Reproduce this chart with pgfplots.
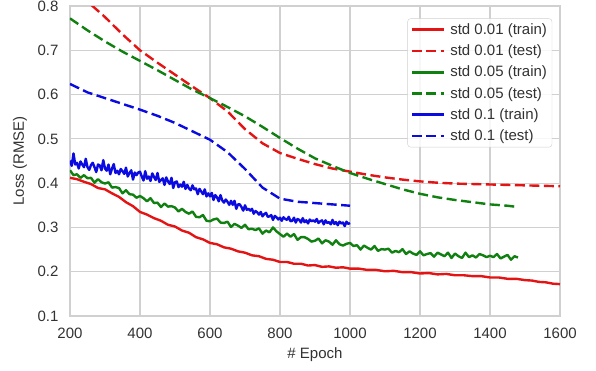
\documentclass[border=0pt]{standalone}
\usepackage{fontspec}
\setmainfont{Liberation Sans}
\usepackage{pgfplots}
\pgfplotsset{compat=1.18}
\definecolor{cR}{RGB}{228,20,20}
\definecolor{cG}{RGB}{16,128,16}
\definecolor{cB}{RGB}{10,10,225}
\definecolor{gridc}{RGB}{208,208,208}
\definecolor{txt}{RGB}{50,50,50}
\begin{document}
\begin{tikzpicture}[font=\fontsize{15bp}{18bp}\selectfont]
\useasboundingbox (-70bp,-55bp) rectangle (526bp,316bp);
\begin{axis}[
  scale only axis, width=490bp, height=310bp,
  xmin=200, xmax=1600, ymin=0.1, ymax=0.8,
  xtick={200,400,...,1600}, ytick={0.1,0.2,...,0.8},
  /pgf/number format/1000 sep={},
  yticklabel style={/pgf/number format/fixed,/pgf/number format/precision=1,/pgf/number format/fixed zerofill, xshift=-8bp, text=txt},
  xticklabel style={yshift=-9bp, text=txt},
  /pgf/number format/assume math mode=true,
  scaled y ticks=false,
  major tick length=0pt,
  grid=major, major grid style={gridc, line width=1.2bp},
  axis line style={gridc, line width=1.2bp},
  xlabel={\# Epoch}, ylabel={Loss (RMSE)},
  xlabel style={at={(axis description cs:0.5,-0.126)}, anchor=center, text=txt},
  ylabel style={at={(axis description cs:-0.102,0.5)}, anchor=center, text=txt},
  legend style={at={(0.984,0.96)}, anchor=north east, draw=gridc, rounded corners=3bp, fill=white, fill opacity=0.85, text opacity=1, draw opacity=1, inner xsep=3bp, inner ysep=3bp, row sep=4.9bp, text=txt, /tikz/every odd column/.append style={column sep=3bp}},
  legend cell align=left,
  legend image code/.code={\draw[#1, line width=2.6bp] (0bp,0bp) -- (32bp,0bp);},
]
\addplot[cR, line width=2.4bp, line join=round] coordinates {
(200,.412)(220,.409)(240,.403)(260,.398)(280,.389)(300,.386)(320,.377)(340,.369)(360,.357)(380,.348)
(400,.335)(420,.329)(440,.321)(460,.315)(480,.306)(500,.302)(520,.293)(540,.288)(560,.278)(580,.273)
(600,.265)(620,.262)(640,.255)(660,.252)(680,.246)(700,.243)(720,.237)(740,.235)(760,.229)(780,.227)
(800,.222)(820,.222)(840,.218)(860,.218)(880,.214)(900,.215)(920,.211)(940,.212)(960,.209)(980,.210)
(1000,.207)(1025,.207)(1050,.204)(1075,.204)(1100,.201)(1125,.202)(1150,.199)(1175,.199)(1200,.196)
(1225,.197)(1250,.194)(1275,.195)(1300,.192)(1325,.192)(1350,.190)(1375,.190)(1400,.187)(1425,.187)
(1450,.184)(1475,.184)(1500,.181)(1520,.180)(1540,.177)(1560,.176)(1580,.173)(1600,.172)};
\addlegendentry{std 0.01 (train)}
\addplot[cR, line width=2.4bp, dash pattern=on 10bp off 4.5bp] coordinates {
(200,.845)(250,.81)(300,.775)(350,.736)(400,.70)(450,.672)(500,.645)(550,.618)(600,.592)(650,.562)
(700,.522)(750,.49)(800,.468)(850,.455)(900,.443)(950,.433)(1000,.426)(1050,.419)(1100,.413)(1150,.408)
(1200,.404)(1250,.401)(1300,.399)(1350,.398)(1400,.397)(1450,.396)(1500,.395)(1550,.394)(1600,.393)};
\addlegendentry{std 0.01 (test)}
\addplot[cG, line width=2.4bp, line join=round] coordinates {
(200,.429)(210,.418)(220,.420)(230,.412)(240,.418)(250,.411)(260,.412)(270,.401)(280,.409)(290,.402)
(300,.399)(310,.402)(320,.390)(330,.391)(340,.389)(350,.377)(360,.384)(370,.375)(380,.374)(390,.367)
(400,.371)(410,.366)(420,.359)(430,.366)(440,.355)(450,.356)(460,.346)(470,.354)(480,.347)(490,.348)
(500,.345)(510,.336)(520,.342)(530,.335)(540,.331)(550,.336)(560,.324)(570,.323)(580,.328)(590,.315)
(600,.314)(610,.318)(620,.320)(630,.311)(640,.310)(650,.313)(660,.301)(670,.308)(680,.304)(690,.299)
(700,.306)(710,.296)(720,.297)(730,.294)(740,.298)(750,.286)(760,.293)(770,.289)(780,.300)(790,.291)
(800,.285)(810,.279)(820,.286)(830,.279)(840,.285)(850,.272)(860,.278)(870,.278)(880,.274)(890,.268)
(900,.270)(910,.275)(920,.264)(930,.271)(940,.268)(950,.261)(960,.271)(970,.262)(980,.259)(990,.263)
(1000,.265)(1010,.258)(1020,.260)(1030,.250)(1040,.259)(1050,.254)(1060,.250)(1070,.258)(1080,.247)(1090,.251)
(1100,.250)(1110,.252)(1120,.243)(1130,.247)(1140,.244)(1150,.251)(1160,.240)(1170,.246)(1180,.241)(1190,.238)
(1200,.246)(1210,.237)(1220,.240)(1230,.242)(1240,.234)(1250,.243)(1260,.239)(1270,.235)(1280,.243)(1290,.231)
(1300,.241)(1310,.235)(1320,.231)(1330,.243)(1340,.233)(1350,.237)(1360,.232)(1370,.240)(1380,.237)(1390,.233)
(1400,.236)(1410,.233)(1420,.240)(1430,.230)(1440,.234)(1450,.238)(1460,.227)(1470,.235)(1480,.232)};
\addlegendentry{std 0.05 (train)}
\addplot[cG, line width=2.4bp, dash pattern=on 10bp off 4.5bp] coordinates {
(200,.772)(250,.745)(300,.72)(350,.697)(400,.676)(450,.655)(500,.633)(550,.611)(600,.592)(650,.572)
(700,.551)(750,.527)(800,.502)(850,.478)(900,.456)(950,.439)(1000,.423)(1050,.41)(1100,.398)(1150,.386)
(1200,.376)(1250,.368)(1300,.362)(1350,.357)(1400,.352)(1450,.349)(1480,.346)};
\addlegendentry{std 0.05 (test)}
\addplot[cB, line width=2.4bp, line join=round] coordinates {
(200,.451)(205,.439)(210,.467)(215,.442)(220,.446)(225,.433)(230,.449)(235,.442)(240,.436)(245,.455)
(250,.436)(255,.430)(260,.441)(265,.446)(270,.436)(275,.425)(280,.442)(285,.440)(290,.429)(295,.452)
(300,.433)(305,.428)(310,.442)(315,.420)(320,.433)(325,.443)(330,.423)(335,.428)(340,.420)(345,.432)
(350,.427)(355,.421)(360,.435)(365,.415)(370,.423)(375,.429)(380,.408)(385,.424)(390,.418)(395,.424)
(400,.426)(405,.415)(410,.406)(415,.427)(420,.410)(425,.415)(430,.405)(435,.422)(440,.414)(445,.407)
(450,.423)(455,.403)(460,.407)(465,.411)(470,.396)(475,.413)(480,.404)(485,.398)(490,.412)(495,.389)
(500,.402)(505,.404)(510,.391)(515,.397)(520,.392)(525,.403)(530,.387)(535,.396)(540,.388)(545,.384)
(550,.395)(555,.386)(560,.388)(565,.375)(570,.387)(575,.381)(580,.375)(585,.386)(590,.370)(595,.377)
(600,.370)(605,.378)(610,.362)(615,.373)(620,.368)(625,.359)(630,.373)(635,.361)(640,.356)(645,.363)
(650,.358)(655,.351)(660,.360)(665,.351)(670,.360)(675,.342)(680,.352)(685,.352)(690,.346)(695,.338)
(700,.350)(705,.340)(710,.342)(715,.338)(720,.342)(725,.331)(730,.337)(735,.334)(740,.329)(745,.335)
(750,.325)(755,.330)(760,.333)(765,.324)(770,.325)(775,.328)(780,.317)(785,.326)(790,.323)(795,.318)
(800,.322)(805,.315)(810,.323)(815,.319)(820,.317)(825,.324)(830,.314)(835,.315)(840,.322)(845,.311)
(850,.319)(855,.317)(860,.311)(865,.321)(870,.312)(875,.316)(880,.309)(885,.318)(890,.314)(895,.316)
(900,.313)(905,.319)(910,.310)(915,.314)(920,.316)(925,.307)(930,.316)(935,.310)(940,.312)(945,.307)
(950,.317)(955,.308)(960,.312)(965,.305)(970,.313)(975,.309)(980,.311)(985,.303)(990,.313)(995,.308)(1000,.310)};
\addlegendentry{std 0.1 (train)}
\addplot[cB, line width=2.4bp, dash pattern=on 10bp off 4.5bp] coordinates {
(200,.624)(250,.605)(300,.592)(350,.579)(400,.566)(450,.552)(500,.536)(550,.517)(600,.498)(650,.470)
(700,.432)(750,.390)(800,.365)(850,.358)(900,.355)(950,.352)(1000,.349)};
\addlegendentry{std 0.1 (test)}
\end{axis}
\end{tikzpicture}
\end{document}
